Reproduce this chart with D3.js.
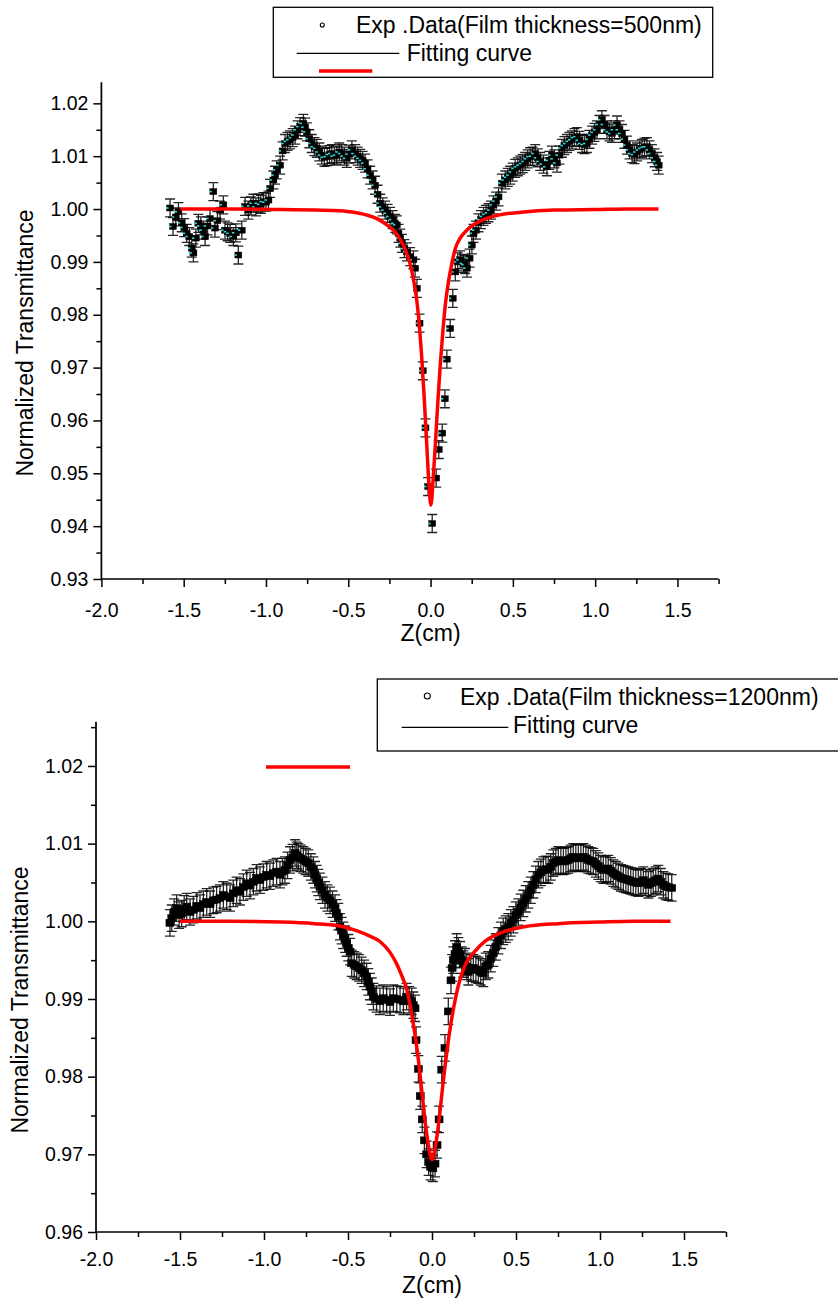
<!DOCTYPE html>
<html>
<head>
<meta charset="utf-8">
<script src="https://cdn.jsdelivr.net/npm/d3@7"></script>
<style>
html,body{margin:0;padding:0;background:#fff;}
svg{display:block;font-family:"Liberation Sans",Arial,Helvetica,sans-serif;}
</style>
</head>
<body>
<svg id="chart" width="838" height="1300"></svg>
<script>
// ---------------- DATA ----------------
const xTickValues = [-2.0,-1.5,-1.0,-0.5,0.0,0.5,1.0,1.5];
const xTickLabels = ["-2.0","-1.5","-1.0","-0.5","0.0","0.5","1.0","1.5"];
const xMinorTicks = [-1.75,-1.25,-0.75,-0.25,0.25,0.75,1.25,1.75];

const yTickValuesTop = [0.93,0.94,0.95,0.96,0.97,0.98,0.99,1.00,1.01,1.02];
const yTickLabelsTop = ["0.93","0.94","0.95","0.96","0.97","0.98","0.99","1.00","1.01","1.02"];
const yMinorTop = [0.935,0.945,0.955,0.965,0.975,0.985,0.995,1.005,1.015];

const yTickValuesBot = [0.96,0.97,0.98,0.99,1.00,1.01,1.02];
const yTickLabelsBot = ["0.96","0.97","0.98","0.99","1.00","1.01","1.02"];
const yMinorBot = [0.965,0.975,0.985,0.995,1.005,1.015,1.025];

const legendTop = ["Exp .Data(Film thickness=500nm)","Fitting curve"];
const legendBot = ["Exp .Data(Film thickness=1200nm)","Fitting curve"];
const xTitle = "Z(cm)";
const yTitle = "Normalized Transmittance";

// Upper panel: 500 nm film
const zTop = [-1.583,-1.565,-1.548,-1.532,-1.512,-1.497,-1.482,-1.466,-1.451,-1.441,-1.426,-1.411,-1.396,-1.381,-1.370,-1.355,-1.340,-1.320,-1.310,-1.295,-1.279,-1.259,-1.249,-1.233,-1.218,-1.198,-1.183,-1.168,-1.147,-1.127,-1.107,-1.092,-1.077,-1.061,-1.046,-1.031,-1.016,-1.000,-0.985,-0.975,-0.955,-0.945,-0.935,-0.914,-0.899,-0.884,-0.869,-0.854,-0.838,-0.823,-0.808,-0.793,-0.773,-0.762,-0.752,-0.737,-0.722,-0.706,-0.691,-0.676,-0.661,-0.645,-0.628,-0.614,-0.600,-0.585,-0.570,-0.555,-0.539,-0.524,-0.509,-0.494,-0.478,-0.458,-0.443,-0.428,-0.413,-0.398,-0.383,-0.367,-0.352,-0.337,-0.322,-0.306,-0.291,-0.276,-0.261,-0.246,-0.230,-0.215,-0.205,-0.195,-0.184,-0.174,-0.159,-0.144,-0.124,-0.104,-0.094,-0.083,-0.067,-0.047,-0.031,-0.015,0.010,0.034,0.050,0.071,0.087,0.099,0.119,0.135,0.150,0.165,0.180,0.200,0.210,0.221,0.237,0.251,0.261,0.276,0.291,0.306,0.322,0.337,0.352,0.367,0.382,0.398,0.413,0.433,0.454,0.469,0.484,0.499,0.514,0.530,0.545,0.560,0.575,0.590,0.605,0.620,0.636,0.651,0.666,0.686,0.707,0.722,0.737,0.752,0.768,0.783,0.798,0.813,0.829,0.844,0.859,0.874,0.889,0.905,0.920,0.935,0.950,0.965,0.981,0.996,1.011,1.026,1.041,1.057,1.072,1.087,1.102,1.117,1.133,1.148,1.163,1.178,1.193,1.209,1.224,1.239,1.254,1.270,1.285,1.300,1.315,1.330,1.345,1.361,1.376,1.386];
const tTop = [1.0002,0.9967,0.9985,0.9995,0.9974,0.9965,0.9954,0.9948,0.9926,0.9917,0.9945,0.9973,0.9968,0.9960,0.9948,0.9968,0.9982,1.0033,0.9964,0.9978,0.9998,1.0008,0.9960,0.9957,0.9954,0.9948,0.9955,0.9913,0.9960,1.0005,0.9998,1.0006,1.0011,1.0004,1.0011,1.0009,1.0014,1.0013,1.0017,1.0039,1.0055,1.0064,1.0074,1.0083,1.0110,1.0124,1.0128,1.0131,1.0135,1.0140,1.0150,1.0156,1.0162,1.0155,1.0146,1.0133,1.0124,1.0118,1.0115,1.0108,1.0102,1.0098,1.0099,1.0103,1.0105,1.0100,1.0102,1.0108,1.0105,1.0100,1.0096,1.0104,1.0112,1.0105,1.0100,1.0096,1.0092,1.0087,1.0076,1.0064,1.0055,1.0045,1.0028,1.0011,1.0004,0.9998,0.9992,0.9986,0.9980,0.9973,0.9970,0.9954,0.9945,0.9935,0.9925,0.9919,0.9910,0.9904,0.9888,0.9850,0.9784,0.9694,0.9586,0.9475,0.9405,0.9491,0.9545,0.9576,0.9641,0.9716,0.9774,0.9831,0.9881,0.9900,0.9904,0.9897,0.9895,0.9888,0.9907,0.9932,0.9954,0.9960,0.9974,0.9980,0.9986,0.9990,0.9993,0.9998,1.0008,1.0015,1.0023,1.0049,1.0055,1.0060,1.0064,1.0070,1.0077,1.0080,1.0083,1.0086,1.0090,1.0095,1.0099,1.0100,1.0105,1.0097,1.0090,1.0085,1.0080,1.0092,1.0102,1.0095,1.0087,1.0102,1.0115,1.0120,1.0124,1.0128,1.0131,1.0135,1.0137,1.0130,1.0124,1.0122,1.0124,1.0132,1.0140,1.0145,1.0150,1.0160,1.0169,1.0160,1.0150,1.0146,1.0143,1.0150,1.0159,1.0150,1.0143,1.0132,1.0121,1.0112,1.0105,1.0103,1.0108,1.0112,1.0115,1.0117,1.0118,1.0112,1.0105,1.0097,1.0090,1.0083];
const errTop = 0.0017;

const zFitTop = [-1.52,-1.2,-0.9,-0.7,-0.55,-0.45,-0.38,-0.32,-0.27,-0.22,-0.18,-0.15,-0.12,-0.10,-0.085,-0.07,-0.055,-0.04,-0.025,-0.012,0.002,0.016,0.03,0.045,0.06,0.075,0.09,0.105,0.125,0.15,0.18,0.22,0.27,0.33,0.42,0.55,0.75,1.0,1.2,1.385];
const tFitTop = [1.0000,1.0000,0.9999,0.9998,0.9997,0.9993,0.9988,0.9981,0.9971,0.9958,0.9940,0.9920,0.9891,0.9860,0.9830,0.9785,0.9725,0.9650,0.9565,0.9490,0.9440,0.9490,0.9560,0.9640,0.9710,0.9770,0.9820,0.9855,0.9890,0.9925,0.9945,0.9960,0.9972,0.9981,0.9989,0.9994,0.9998,0.9999,1.0000,1.0000];

// Lower panel: 1200 nm film
const zBot = [-1.560,-1.549,-1.535,-1.520,-1.505,-1.490,-1.475,-1.460,-1.440,-1.421,-1.400,-1.381,-1.361,-1.341,-1.321,-1.302,-1.282,-1.262,-1.242,-1.222,-1.202,-1.183,-1.163,-1.143,-1.123,-1.103,-1.083,-1.063,-1.044,-1.024,-1.004,-0.984,-0.965,-0.945,-0.925,-0.905,-0.890,-0.875,-0.860,-0.845,-0.830,-0.815,-0.805,-0.796,-0.781,-0.766,-0.751,-0.736,-0.721,-0.706,-0.696,-0.686,-0.677,-0.667,-0.652,-0.637,-0.622,-0.607,-0.592,-0.577,-0.568,-0.558,-0.548,-0.538,-0.528,-0.518,-0.508,-0.498,-0.488,-0.478,-0.463,-0.448,-0.434,-0.419,-0.404,-0.389,-0.379,-0.369,-0.359,-0.349,-0.330,-0.310,-0.290,-0.270,-0.250,-0.230,-0.210,-0.190,-0.170,-0.151,-0.136,-0.121,-0.111,-0.101,-0.095,-0.081,-0.070,-0.058,-0.045,-0.032,-0.020,-0.008,0.005,0.018,0.030,0.042,0.058,0.077,0.097,0.113,0.120,0.127,0.137,0.147,0.157,0.167,0.177,0.186,0.196,0.207,0.216,0.231,0.246,0.261,0.276,0.290,0.305,0.320,0.335,0.350,0.365,0.380,0.395,0.410,0.424,0.439,0.454,0.469,0.484,0.499,0.514,0.528,0.543,0.558,0.573,0.588,0.603,0.618,0.633,0.648,0.663,0.678,0.692,0.707,0.722,0.737,0.752,0.767,0.782,0.797,0.811,0.826,0.841,0.856,0.871,0.886,0.901,0.916,0.930,0.945,0.960,0.975,0.990,1.005,1.020,1.035,1.049,1.064,1.079,1.094,1.109,1.124,1.139,1.154,1.168,1.183,1.198,1.213,1.228,1.243,1.258,1.273,1.288,1.303,1.317,1.332,1.347,1.362,1.377,1.392,1.407,1.427];
const tBot = [0.9998,1.0004,1.0012,1.0017,1.0008,1.0010,1.0016,1.0019,1.0012,1.0015,1.0020,1.0017,1.0022,1.0025,1.0022,1.0027,1.0028,1.0030,1.0034,1.0032,1.0030,1.0036,1.0040,1.0038,1.0044,1.0049,1.0046,1.0051,1.0056,1.0053,1.0057,1.0060,1.0058,1.0062,1.0064,1.0060,1.0064,1.0066,1.0072,1.0079,1.0082,1.0088,1.0085,1.0083,1.0081,1.0079,1.0077,1.0075,1.0070,1.0066,1.0060,1.0055,1.0050,1.0045,1.0040,1.0034,1.0030,1.0027,1.0022,1.0017,1.0011,1.0006,0.9993,0.9988,0.9982,0.9977,0.9972,0.9966,0.9961,0.9946,0.9944,0.9942,0.9940,0.9937,0.9933,0.9929,0.9922,0.9916,0.9910,0.9903,0.9900,0.9897,0.9901,0.9899,0.9896,0.9901,0.9900,0.9899,0.9897,0.9903,0.9899,0.9897,0.9892,0.9888,0.9847,0.9810,0.9775,0.9745,0.9718,0.9700,0.9690,0.9684,0.9682,0.9688,0.9712,0.9745,0.9809,0.9837,0.9884,0.9924,0.9940,0.9950,0.9958,0.9967,0.9962,0.9957,0.9950,0.9945,0.9948,0.9942,0.9935,0.9940,0.9940,0.9938,0.9937,0.9935,0.9933,0.9942,0.9944,0.9952,0.9959,0.9967,0.9975,0.9982,0.9987,0.9990,0.9993,0.9998,1.0002,1.0008,1.0012,1.0018,1.0023,1.0029,1.0034,1.0040,1.0047,1.0054,1.0060,1.0063,1.0066,1.0067,1.0066,1.0070,1.0075,1.0077,1.0079,1.0078,1.0077,1.0078,1.0079,1.0081,1.0083,1.0082,1.0081,1.0082,1.0083,1.0081,1.0079,1.0078,1.0077,1.0074,1.0071,1.0068,1.0066,1.0067,1.0068,1.0065,1.0062,1.0060,1.0058,1.0056,1.0055,1.0054,1.0053,1.0052,1.0051,1.0050,1.0049,1.0051,1.0053,1.0050,1.0047,1.0049,1.0051,1.0053,1.0055,1.0051,1.0047,1.0045,1.0044,1.0043];
const errBot = 0.0017;

const zFitBot = [-1.50,-1.2,-0.9,-0.7,-0.55,-0.45,-0.38,-0.31,-0.25,-0.21,-0.18,-0.15,-0.13,-0.11,-0.095,-0.08,-0.065,-0.05,-0.035,-0.02,0.0,0.02,0.035,0.05,0.065,0.08,0.095,0.11,0.13,0.16,0.20,0.25,0.32,0.42,0.55,0.75,1.0,1.2,1.42];
const tFitBot = [1.0000,1.0000,0.9999,0.9997,0.9994,0.9988,0.9982,0.9974,0.9960,0.9945,0.9930,0.9912,0.9892,0.9866,0.9845,0.9820,0.9790,0.9760,0.9732,0.9710,0.9693,0.9710,0.9732,0.9760,0.9790,0.9818,0.9843,0.9865,0.9890,0.9920,0.9945,0.9960,0.9975,0.9986,0.9993,0.9997,0.9999,1.0000,1.0000];

// ---------------- DRAW ----------------
const svg = d3.select("#chart");
const FONT_TICK = 19.5, FONT_TITLE = 23, FONT_LEG = 23;

function panel(cfg) {
  const x = d3.scaleLinear().domain([-2.0, 1.75]).range([cfg.x0, cfg.x1]);
  const y = d3.scaleLinear().domain(cfg.ydom).range([cfg.y0, cfg.y1]);
  const g = svg.append("g");

  // minor ticks
  const gxm = g.append("g").attr("transform", `translate(0,${cfg.y0})`)
    .call(d3.axisBottom(x).tickValues(xMinorTicks).tickSize(5).tickFormat(""));
  const gym = g.append("g").attr("transform", `translate(${cfg.x0},0)`)
    .call(d3.axisLeft(y).tickValues(cfg.yMinor).tickSize(5).tickFormat(""));
  [gxm, gym].forEach(a => { a.select(".domain").remove(); a.selectAll("line").attr("stroke","#000").attr("stroke-width",1.5); });

  // major axes
  const gx = g.append("g").attr("transform", `translate(0,${cfg.y0})`)
    .call(d3.axisBottom(x).tickValues(xTickValues).tickSize(8).tickPadding(cfg.xPad)
      .tickFormat((d,i) => xTickLabels[i]));
  const gy = g.append("g").attr("transform", `translate(${cfg.x0},0)`)
    .call(d3.axisLeft(y).tickValues(cfg.yTicks).tickSize(8).tickPadding(5)
      .tickFormat((d,i) => cfg.yLabels[i]));
  [gx, gy].forEach(a => {
    a.select(".domain").attr("stroke","#000").attr("stroke-width",1.7);
    a.selectAll("line").attr("stroke","#000").attr("stroke-width",1.5);
    a.selectAll("text").attr("fill","#000").style("font-size", FONT_TICK + "px")
      .style("font-family", '"Liberation Sans",Arial,sans-serif');
  });
  gx.select(".domain").attr("d", `M${cfg.x0},0H${cfg.x1}`);
  gy.select(".domain").attr("d", `M0,${cfg.y0}V${cfg.y1}`);

  // titles
  g.append("text").attr("x", x(0)).attr("y", cfg.xTitleY).attr("text-anchor","middle")
    .style("font-size", FONT_TITLE + "px").text(xTitle);
  g.append("text").attr("transform", `translate(${cfg.yTitleX},${cfg.yTitleY}) rotate(-90)`)
    .attr("text-anchor","middle").style("font-size", FONT_TITLE + "px").text(yTitle);

  // data with error bars
  const pts = cfg.z.map((z,i) => ({z, t: cfg.t[i]}));
  const eb = g.append("g");
  const capW = 5;
  pts.forEach(p => {
    const cx = x(p.z), yt = y(p.t + cfg.err), yb = y(p.t - cfg.err);
    eb.append("path")
      .attr("d", `M${cx},${yt}V${yb}M${cx-capW},${yt}H${cx+capW}M${cx-capW},${yb}H${cx+capW}`)
      .attr("stroke", "rgba(0,0,0,0.85)").attr("stroke-width", 1.3).attr("fill","none");
  });
  const mk = g.append("g");
  mk.selectAll("rect").data(pts).enter().append("rect")
    .attr("x", d => x(d.z) - cfg.ms/2).attr("y", d => y(d.t) - cfg.mh/2)
    .attr("width", cfg.ms).attr("height", cfg.mh)
    .attr("fill", "#000").attr("stroke", cfg.mStroke).attr("stroke-width", cfg.mStrokeW);
  if (cfg.cyan) {
    // cyan highlight streak inside each marker
    mk.selectAll("line").data(pts).enter().append("line")
      .attr("x1", d => x(d.z) - cfg.ms/2 - 0.5).attr("x2", d => x(d.z) - cfg.ms/2 + 2)
      .attr("y1", d => y(d.t)).attr("y2", d => y(d.t))
      .attr("stroke", cfg.cyan).attr("stroke-width", 1.6);
  }

  // fit curve
  const fit = cfg.zFit.map((z,i) => [z, cfg.tFit[i]]);
  g.append("path").datum(fit)
    .attr("d", d3.line().x(d => x(d[0])).y(d => y(d[1])).curve(d3.curveMonotoneX))
    .attr("fill","none").attr("stroke","#ff0000").attr("stroke-width",3.5).attr("stroke-linejoin","round");

  return {x, y, g};
}

panel({x0:101.4, x1:718.6, y0:579, y1:82.2, ydom:[0.93,1.024], yTicks:yTickValuesTop, yLabels:yTickLabelsTop,
  yMinor:yMinorTop, xPad:16, xTitleY:641, yTitleX:33, yTitleY:343,
  z:zTop, t:tTop, err:errTop, zFit:zFitTop, tFit:tFitTop, ms:7, mh:6, mStroke:"#000", mStrokeW:0.4, cyan:"#30d8d8"});

panel({x0:96, x1:726, y0:1232, y1:721.7, ydom:[0.96,1.0257], yTicks:yTickValuesBot, yLabels:yTickLabelsBot,
  yMinor:yMinorBot, xPad:12, xTitleY:1293, yTitleX:28, yTitleY:1000,
  z:zBot, t:tBot, err:errBot, zFit:zFitBot, tFit:tFitBot, ms:8, mh:7, mStroke:"#000", mStrokeW:0.5, cyan:null});

// ---------------- LEGENDS ----------------
function legend(l) {
  const g = svg.append("g");
  g.append("rect").attr("x", l.bx).attr("y", l.by).attr("width", l.bw).attr("height", l.bh)
    .attr("fill","#fff").attr("stroke","#000").attr("stroke-width",1.3);
  g.append("circle").attr("cx", l.cx).attr("cy", l.cy).attr("r", l.r)
    .attr("fill","none").attr("stroke","#000").attr("stroke-width",1.1);
  g.append("text").attr("x", l.t1x).attr("y", l.t1y).style("font-size", FONT_LEG + "px").text(l.labels[0]);
  g.append("line").attr("x1", l.lx1).attr("x2", l.lx2).attr("y1", l.ly).attr("y2", l.ly)
    .attr("stroke","#000").attr("stroke-width",1.3);
  g.append("text").attr("x", l.t2x).attr("y", l.t2y).style("font-size", FONT_LEG + "px").text(l.labels[1]);
  g.append("line").attr("x1", l.rx1).attr("x2", l.rx2).attr("y1", l.ry).attr("y2", l.ry)
    .attr("stroke","#ff0000").attr("stroke-width",3.5);
}
legend({bx:273.3, by:7.3, bw:439.4, bh:70, cx:322.3, cy:25, r:2, t1x:356, t1y:33.3,
  lx1:296.7, lx2:399.3, ly:53.3, t2x:406.7, t2y:60.7, rx1:319, rx2:372.3, ry:71, labels:legendTop});
legend({bx:377.3, by:679, bw:500, bh:72, cx:427.3, cy:696, r:3, t1x:460, t1y:705,
  lx1:401.7, lx2:508.3, ly:727.3, t2x:513, t2y:733.3, rx1:266, rx2:350, ry:767, labels:legendBot});
</script>
</body>
</html>
